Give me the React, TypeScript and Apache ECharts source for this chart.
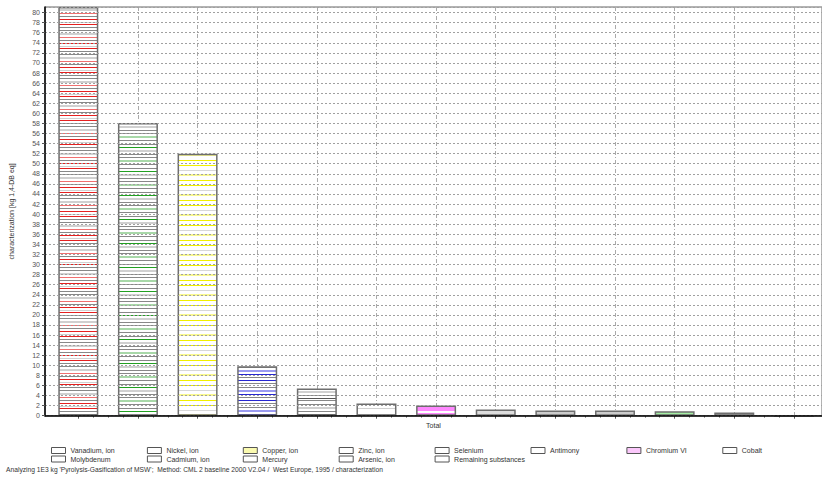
import React, { useEffect, useRef } from 'react';
import * as echarts from 'echarts';

const categories = ['Total'];
const substances = [
  'Vanadium, ion',
  'Nickel, ion',
  'Copper, ion',
  'Zinc, ion',
  'Selenium',
  'Antimony',
  'Chromium VI',
  'Cobalt',
  'Molybdenum',
  'Cadmium, ion',
  'Mercury',
  'Arsenic, ion',
  'Remaining substances',
];
const values = [81.1, 58.1, 52.0, 9.8, 5.4, 2.4, 2.0, 1.25, 1.05, 1.05, 0.9, 0.65, 0];
const yMin = 0;
const yMax = 81.1;
const yStep = 2;
const yAxisTitle = 'characterization [kg 1,4-DB eq]';
const footNote =
  "Analyzing 1E3 kg 'Pyrolysis-Gasification of MSW';  Method: CML 2 baseline 2000 V2.04 /  West Europe, 1995 / characterization";

const FONT = '"Liberation Sans", Arial, sans-serif';

function stripes(h: number, lines: [number, number, string][], bg = '#ffffff') {
  const c = document.createElement('canvas');
  c.width = 4;
  c.height = h;
  const ctx = c.getContext('2d')!;
  ctx.fillStyle = bg;
  ctx.fillRect(0, 0, 4, h);
  for (const [y, t, col] of lines) {
    ctx.fillStyle = col;
    ctx.fillRect(0, y, 4, t);
  }
  return { image: c, repeat: 'repeat', imageWidth: 4, imageHeight: h } as any;
}

export default function App() {
  const ref = useRef<HTMLDivElement>(null);
  useEffect(() => {
    const chart = echarts.init(ref.current!, null, { renderer: 'svg' });
    const G = '#888888';
    const L = '#d0d0d0';
    const R = '#e52020';
    const GR = '#22a022';
    const Y = '#f0f000';
    const B = '#2828d0';
    const P = '#ff88ff';
    const fills: any[] = [
      stripes(24, [[0, 1, R], [3, 1, G], [6, 1, G], [9, 2, L], [13, 1, '#f07070'], [16, 1, G], [19, 1, R], [22, 1, L]]),
      stripes(24, [[0, 1, G], [3, 1, GR], [6, 2, L], [10, 1, G], [13, 1, G], [16, 2, '#a8d8a8'], [20, 1, G]]),
      stripes(20, [[0, 1, Y], [5, 1, Y], [10, 1, '#d8d8d8'], [14, 2, '#f8f890']]),
      stripes(20, [[0, 1, B], [3, 1, G], [7, 1, G], [10, 2, '#9a9af0'], [14, 1, B], [17, 1, G]]),
      stripes(16, [[0, 1, G], [4, 1, G], [7, 2, L], [11, 1, G], [14, 1, '#555555']]),
      stripes(12, [[0, 1, L], [6, 3, L]]),
      stripes(8, [[0, 3, P], [5, 3, P]]),
      stripes(6, [[3, 3, '#dddddd']]),
      stripes(6, [[3, 3, '#cccccc']]),
      stripes(6, [[3, 3, '#cccccc']]),
      '#a4f0a4',
      '#c8c8c8',
      '#ffffff',
    ];
    const legendIcon = (name: string) => {
      let color = '#ffffff';
      if (name === 'Copper, ion') color = '#fbfbb0';
      if (name === 'Chromium VI') color = '#fbc8fb';
      return { name, itemStyle: { color, borderColor: '#555555', borderWidth: 1 } };
    };
    const legends = substances.map((name, i) => {
      const row = i < 8 ? 0 : 1;
      const col = i < 8 ? i : i - 8;
      return {
        left: 51 + col * 95.9,
        top: row === 0 ? 447 : 455.5,
        orient: 'horizontal',
        icon: 'rect',
        itemWidth: 14,
        itemHeight: 6,
        itemGap: 0,
        selectedMode: false,
        padding: 0,
        textStyle: { fontSize: 7, color: '#333333', fontFamily: FONT },
        data: [legendIcon(name)],
      };
    });
    const option: any = {
      animation: false,
      backgroundColor: '#ffffff',
      textStyle: { fontFamily: FONT },
      title: {
        text: footNote,
        left: 6,
        top: 466,
        padding: 0,
        textStyle: { fontSize: 6.7, fontWeight: 'normal', color: '#333333', fontFamily: FONT },
      },
      legend: legends,
      grid: [
        {
          left: 38,
          top: 7,
          width: 796,
          height: 408.7,
          show: true,
          borderColor: '#666666',
          borderWidth: 1,
          backgroundColor: 'transparent',
        },
        { left: 78.3, top: 7, width: 715.6, height: 408.7, show: false },
      ],
      xAxis: [
        {
          type: 'category',
          gridIndex: 0,
          data: categories,
          axisLine: { lineStyle: { color: '#000000', width: 1.5 } },
          axisTick: { show: false },
          axisLabel: { fontSize: 7, color: '#333333', margin: 6, fontFamily: FONT },
          splitLine: { show: false },
          z: 5,
        },
        {
          type: 'value',
          gridIndex: 1,
          min: 0,
          max: 12,
          interval: 1,
          axisLine: { show: false },
          axisLabel: { show: false },
          axisTick: { show: true, length: 3, lineStyle: { color: '#555555' } },
          minorTick: { show: true, splitNumber: 4, length: 2, lineStyle: { color: '#777777' } },
          splitLine: { show: true, lineStyle: { color: '#aaaaaa', width: 1, type: [4, 2, 1, 2] } },
        },
      ],
      yAxis: [
        {
          type: 'value',
          gridIndex: 0,
          min: yMin,
          max: yMax,
          interval: yStep,
          name: yAxisTitle,
          nameLocation: 'middle',
          nameGap: 30,
          nameTextStyle: { fontSize: 7, color: '#333333', fontFamily: FONT },
          axisLine: { show: true, lineStyle: { color: '#000000', width: 1.5 } },
          axisTick: { show: true, length: 3, lineStyle: { color: '#555555' } },
          axisLabel: { fontSize: 7, color: '#555555', margin: 5, showMaxLabel: false, fontFamily: FONT },
          splitLine: { show: true, lineStyle: { color: '#a0a0a0', width: 1, type: [2, 2] } },
          z: 5,
        },
        {
          type: 'value',
          gridIndex: 1,
          min: yMin,
          max: yMax,
          show: false,
          splitLine: { show: false },
        },
      ],
      series: substances.map((name, i) => ({
        type: 'bar',
        name,
        xAxisIndex: 1,
        yAxisIndex: 1,
        data: [[i, values[i]]],
        barWidth: 40,
        barGap: '-100%',
        clip: false,
        itemStyle: { color: fills[i], borderColor: '#6e6e6e', borderWidth: 1.5 },
        z: 3,
      })),
    };
    chart.setOption(option);
    return () => chart.dispose();
  }, []);
  return (
    <div style={{ position: 'absolute', left: 0, top: 0, width: 822, height: 484, background: '#fff' }}>
      <div ref={ref} style={{ width: 822, height: 484 }} />
    </div>
  );
}
